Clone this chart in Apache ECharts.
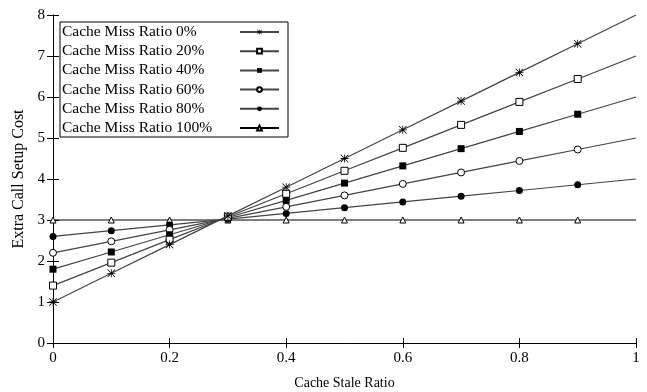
<!DOCTYPE html>
<html>
<head>
<meta charset="utf-8">
<script src="https://cdn.jsdelivr.net/npm/echarts@6/dist/echarts.min.js"></script>
<style>
html,body{margin:0;padding:0;background:#fff;}
#chart{width:647px;height:392px;}
</style>
</head>
<body>
<div id="chart"></div>
<script>
// ---- data ----
var staleRatio = [0, 0.1, 0.2, 0.3, 0.4, 0.5, 0.6, 0.7, 0.8, 0.9, 1.0];
var seriesNames = ['Cache Miss Ratio 0%', 'Cache Miss Ratio 20%', 'Cache Miss Ratio 40%',
                   'Cache Miss Ratio 60%', 'Cache Miss Ratio 80%', 'Cache Miss Ratio 100%'];
var miss0   = [1.0, 1.7, 2.4, 3.1, 3.8, 4.5, 5.2, 5.9, 6.6, 7.3, 8.0];
var miss20  = [1.4, 1.96, 2.52, 3.08, 3.64, 4.2, 4.76, 5.32, 5.88, 6.44, 7.0];
var miss40  = [1.8, 2.22, 2.64, 3.06, 3.48, 3.9, 4.32, 4.74, 5.16, 5.58, 6.0];
var miss60  = [2.2, 2.48, 2.76, 3.04, 3.32, 3.6, 3.88, 4.16, 4.44, 4.72, 5.0];
var miss80  = [2.6, 2.74, 2.88, 3.02, 3.16, 3.3, 3.44, 3.58, 3.72, 3.86, 4.0];
var miss100 = [3, 3, 3, 3, 3, 3, 3, 3, 3, 3, 3];
var xTicks = [0, 0.2, 0.4, 0.6, 0.8, 1];
var yTicks = [0, 1, 2, 3, 4, 5, 6, 7, 8];

var serif = '"Liberation Serif", "DejaVu Serif", serif';
var asterisk = 'path://M4.5,0 L5.5,0 L5.5,10 L4.5,10 Z M0,4.5 L10,4.5 L10,5.5 L0,5.5 Z M0.7,0 L10,9.3 L9.3,10 L0,0.7 Z M9.3,0 L10,0.7 L0.7,10 L0,9.3 Z';

var allValues = [miss0, miss20, miss40, miss60, miss80, miss100];
var markers = [
  {symbol: asterisk, size: 8, fill: '#000', border: 0},
  {symbol: 'rect', size: 7, fill: '#fff', border: 1},
  {symbol: 'rect', size: 7, fill: '#000', border: 0},
  {symbol: 'circle', size: 7, fill: '#fff', border: 1},
  {symbol: 'circle', size: 7, fill: '#000', border: 0},
  {symbol: 'triangle', size: 6, fill: '#fff', border: 1}
];
var lineColors = ['#444', '#444', '#444', '#444', '#444', '#000'];

function buildData(vals) {
  return staleRatio.map(function (x, i) {
    var item = {value: [x, vals[i]]};
    if (i === staleRatio.length - 1) item.symbol = 'none';
    return item;
  });
}

var series = allValues.map(function (vals, k) {
  var m = markers[k];
  return {
    name: seriesNames[k],
    type: 'line',
    data: buildData(vals),
    symbol: m.symbol,
    symbolSize: m.size,
    showAllSymbol: true,
    animation: false,
    lineStyle: {color: lineColors[k], width: 1.2},
    itemStyle: {color: m.fill, borderColor: '#000', borderWidth: m.border, opacity: 1},
    emphasis: {disabled: true},
    z: 10 - k
  };
});

var chart = echarts.init(document.getElementById('chart'), null, {renderer: 'canvas'});
chart.setOption({
  animation: false,
  backgroundColor: '#fff',
  grid: {left: 53, right: 11, top: 15, bottom: 49, containLabel: false, outerBoundsMode: 'none'},
  legend: {
    orient: 'vertical',
    left: 60,
    top: 22,
    align: 'right',
    itemGap: 3.2,
    itemWidth: 39,
    itemHeight: 6,
    padding: [2, 8, 1, 2],
    backgroundColor: '#fff',
    borderColor: '#000',
    borderWidth: 1,
    borderRadius: 0,
    formatter: '{t|{name}}',
    textStyle: {
      fontFamily: serif, fontSize: 15.5, color: '#000',
      rich: {t: {fontFamily: serif, fontSize: 15.5, color: '#000', width: 173, align: 'left', lineHeight: 15}}
    },
    data: seriesNames
  },
  xAxis: [{
    type: 'value', min: xTicks[0], max: xTicks[xTicks.length - 1], interval: 0.2,
    name: 'Cache Stale Ratio', nameLocation: 'middle', nameGap: 33,
    nameTextStyle: {fontFamily: serif, fontSize: 14, color: '#000'},
    axisLine: {show: true, lineStyle: {color: '#000', width: 1}},
    axisTick: {show: true, inside: true, length: 5, lineStyle: {color: '#000'}},
    axisLabel: {fontFamily: serif, fontSize: 15, color: '#000', margin: 8},
    splitLine: {show: false}
  }, {
    type: 'value', min: 0, max: 1, interval: 0.2, position: 'top',
    axisLine: {show: true, lineStyle: {color: '#000', width: 1}},
    axisTick: {show: true, inside: true, length: 5, lineStyle: {color: '#000'}},
    axisLabel: {show: false}, splitLine: {show: false}
  }],
  yAxis: [{
    type: 'value', min: yTicks[0], max: yTicks[yTicks.length - 1], interval: 1,
    name: 'Extra Call Setup Cost', nameLocation: 'middle', nameGap: 26,
    nameTextStyle: {fontFamily: serif, fontSize: 16, color: '#000'},
    axisLine: {show: true, lineStyle: {color: '#000', width: 1}},
    axisTick: {show: true, inside: true, length: 6, lineStyle: {color: '#000'}},
    axisLabel: {fontFamily: serif, fontSize: 15, color: '#000', margin: 8},
    splitLine: {show: false}
  }, {
    type: 'value', min: 0, max: 8, interval: 1, position: 'right',
    axisLine: {show: true, lineStyle: {color: '#000', width: 1}},
    axisTick: {show: true, inside: true, length: 6, lineStyle: {color: '#000'}},
    axisLabel: {show: false}, splitLine: {show: false}
  }],
  series: series
});
</script>
</body>
</html>
